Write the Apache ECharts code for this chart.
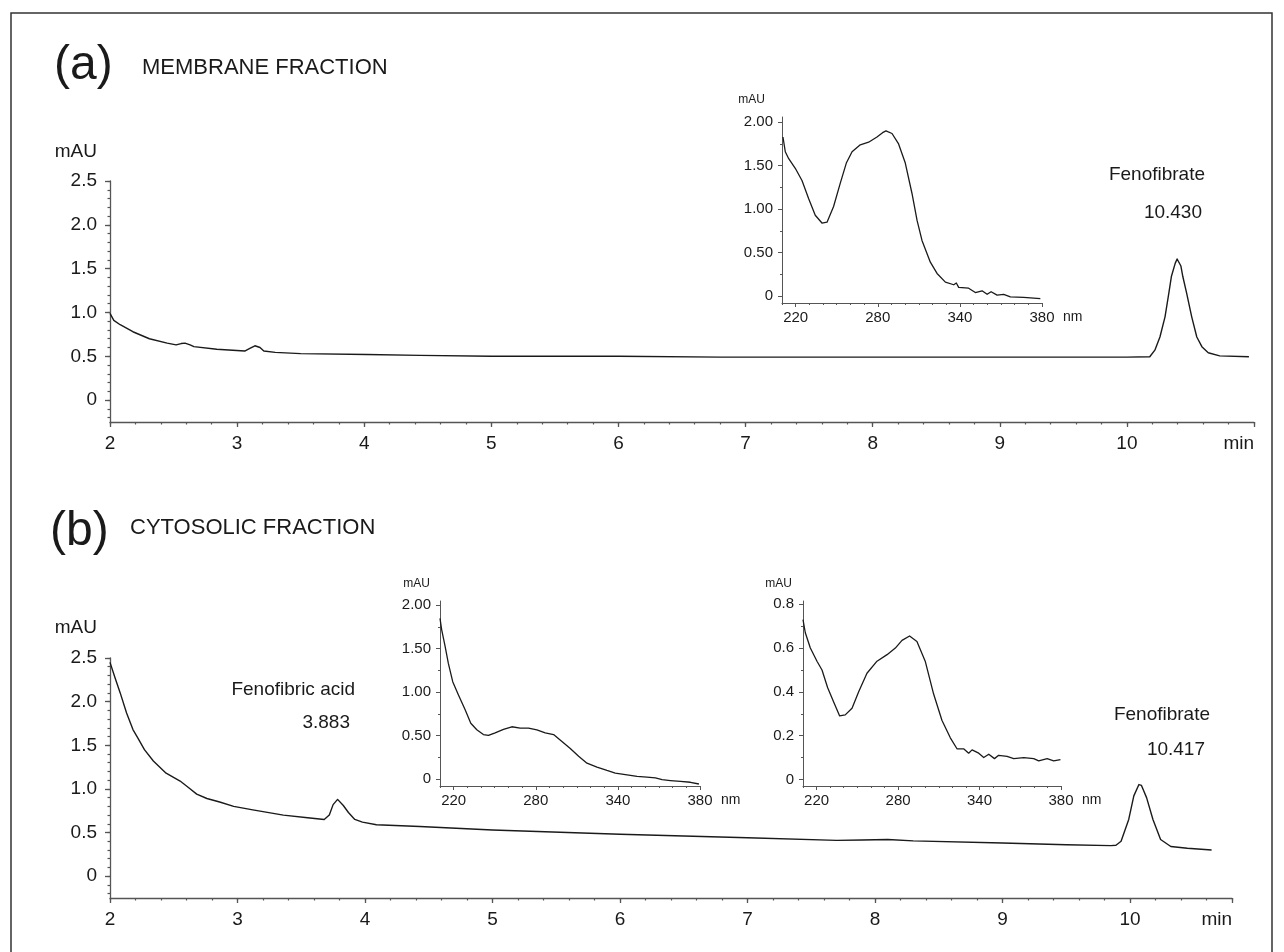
<!DOCTYPE html>
<html>
<head>
<meta charset="utf-8">
<script src="https://cdn.jsdelivr.net/npm/echarts@6/dist/echarts.min.js"></script>
<style>
  html, body { margin: 0; padding: 0; background: #fff; }
  #chart { width: 1284px; height: 952px; }
</style>
</head>
<body>
<div id="chart"></div>
<script>
// chromatogram (a) membrane fraction: retention time (min) / absorbance (mAU)
var memTime = [2.00, 2.03, 2.08, 2.18, 2.31, 2.45, 2.52, 2.56, 2.59, 2.63, 2.66, 2.84, 3.06, 3.10, 3.14, 3.18, 3.21, 3.30, 3.50, 4.02, 4.44, 5.00, 6.00, 6.80, 8.00, 9.00, 10.00, 10.18, 10.22, 10.26, 10.30, 10.33, 10.35, 10.38, 10.395, 10.41, 10.425, 10.44, 10.47, 10.51, 10.55, 10.59, 10.64, 10.73, 10.96];
var memAbs  = [0.99, 0.91, 0.86, 0.78, 0.70, 0.65, 0.63, 0.645, 0.65, 0.63, 0.61, 0.58, 0.56, 0.59, 0.62, 0.60, 0.56, 0.545, 0.53, 0.52, 0.51, 0.50, 0.50, 0.49, 0.49, 0.49, 0.49, 0.494, 0.57, 0.72, 0.95, 1.22, 1.41, 1.56, 1.61, 1.60, 1.53, 1.41, 1.22, 0.95, 0.72, 0.61, 0.54, 0.505, 0.494];

// chromatogram (b) cytosolic fraction
var cytTime = [2.00, 2.04, 2.08, 2.13, 2.18, 2.22, 2.27, 2.34, 2.44, 2.55, 2.62, 2.68, 2.76, 2.86, 2.97, 3.12, 3.36, 3.55, 3.68, 3.72, 3.75, 3.785, 3.80, 3.83, 3.87, 3.92, 3.98, 4.09, 4.43, 5.00, 6.00, 7.00, 7.70, 7.90, 8.10, 8.30, 9.00, 9.50, 9.85, 9.89, 9.93, 9.99, 10.03, 10.07, 10.09, 10.13, 10.18, 10.24, 10.32, 10.45, 10.64];
var cytAbs  = [2.45, 2.27, 2.10, 1.87, 1.68, 1.58, 1.45, 1.32, 1.18, 1.09, 1.01, 0.94, 0.89, 0.85, 0.80, 0.76, 0.70, 0.67, 0.65, 0.70, 0.82, 0.88, 0.87, 0.81, 0.73, 0.65, 0.62, 0.59, 0.57, 0.53, 0.48, 0.44, 0.41, 0.415, 0.42, 0.405, 0.38, 0.36, 0.35, 0.355, 0.40, 0.65, 0.92, 1.05, 1.04, 0.90, 0.65, 0.42, 0.34, 0.32, 0.30];

// UV spectrum inset, membrane fenofibrate peak: wavelength (nm) / mAU
var specMemNm  = [210.7, 212.4, 214.9, 219.7, 224.6, 229.5, 234.3, 239.2, 242.9, 247.7, 252.6, 257.0, 261.2, 267.2, 273.3, 279.4, 283.5, 286.0, 290.4, 295.2, 300.1, 305.0, 308.7, 312.3, 318.4, 323.3, 329.4, 335.5, 337.4, 339.1, 346.4, 347.6, 351.3, 356.2, 359.9, 362.8, 367.2, 372.0, 376.9, 386.6, 398.8];
var specMemAbs = [1.83, 1.66, 1.58, 1.47, 1.33, 1.12, 0.93, 0.84, 0.85, 1.03, 1.30, 1.53, 1.66, 1.74, 1.77, 1.83, 1.88, 1.90, 1.87, 1.75, 1.53, 1.18, 0.87, 0.64, 0.39, 0.26, 0.16, 0.13, 0.15, 0.10, 0.09, 0.11, 0.04, 0.06, 0.02, 0.05, 0.01, 0.02, -0.01, -0.015, -0.03];

// UV spectrum inset, cytosolic fenofibric acid peak
var specAcidNm  = [210.0, 211.2, 213.7, 216.1, 219.3, 223.4, 228.3, 232.5, 236.9, 241.7, 245.4, 250.3, 256.4, 262.5, 268.6, 274.7, 280.8, 286.9, 293.0, 299.1, 305.2, 311.3, 317.4, 324.7, 332.0, 338.1, 346.7, 354.0, 361.3, 367.4, 372.3, 378.4, 385.7, 393.0, 399.2];
var specAcidAbs = [1.85, 1.72, 1.53, 1.33, 1.12, 0.97, 0.80, 0.64, 0.565, 0.51, 0.50, 0.53, 0.57, 0.60, 0.585, 0.585, 0.565, 0.53, 0.51, 0.43, 0.35, 0.26, 0.18, 0.135, 0.096, 0.066, 0.046, 0.027, 0.02, 0.01, -0.01, -0.02, -0.03, -0.04, -0.06];

// UV spectrum inset, cytosolic fenofibrate peak
var specFenoNm  = [210.0, 211.7, 215.4, 220.3, 224.0, 228.1, 232.5, 237.0, 241.1, 246.1, 251.0, 257.1, 264.5, 271.9, 278.0, 282.9, 288.5, 293.9, 300.0, 306.2, 312.3, 318.5, 323.4, 328.3, 332.0, 334.5, 339.4, 343.1, 346.8, 351.0, 354.1, 360.3, 365.2, 372.6, 379.9, 383.6, 389.8, 394.6, 399.6];
var specFenoAbs = [0.73, 0.67, 0.60, 0.54, 0.50, 0.42, 0.355, 0.29, 0.295, 0.325, 0.40, 0.485, 0.54, 0.57, 0.60, 0.635, 0.655, 0.63, 0.54, 0.39, 0.27, 0.19, 0.14, 0.14, 0.12, 0.135, 0.12, 0.10, 0.115, 0.095, 0.11, 0.105, 0.095, 0.10, 0.095, 0.085, 0.095, 0.085, 0.09];

// tick labels
var timeLabels = [2, 3, 4, 5, 6, 7, 8, 9, 10];
var mauLabels = [0, 0.5, 1.0, 1.5, 2.0, 2.5];
var specMauLabels = [0, 0.5, 1.0, 1.5, 2.0];
var specFenoLabels = [0, 0.2, 0.4, 0.6, 0.8];
var nmTickPos = [220, 280, 340, 400];
var nmTickText = ['220', '280', '340', '380'];

var FONT = "'Liberation Sans', Arial, Helvetica, sans-serif";
var INK = '#1a1a1a';
var AXIS = '#555';

function steps(from, to, step) {
    var out = [];
    for (var v = from; v <= to + 1e-9; v += step) out.push(+v.toFixed(4));
    return out;
}
function pairs(xs, ys) {
    return xs.map(function (x, i) { return [x, ys[i]]; });
}

function axis(grid, pos, min, max, ticks, labels, fmt, o) {
    return {
        type: 'value', gridIndex: grid, position: pos, min: min, max: max,
        splitLine: {show: false},
        axisLine: {show: true, onZero: false, lineStyle: {color: AXIS, width: o.lw}},
        axisTick: {show: true, customValues: ticks, length: o.tick, lineStyle: {color: AXIS, width: o.lw}},
        axisLabel: {show: true, customValues: labels, formatter: fmt, margin: o.margin,
            color: INK, fontSize: o.fs, fontFamily: FONT},
        name: o.name, nameLocation: 'end', nameGap: o.nameGap,
        nameTextStyle: Object.assign({color: INK, fontFamily: FONT, fontSize: o.nameFs}, o.nameStyle)
    };
}
function minorAxis(grid, pos, min, max, ticks, len, lw) {
    return {
        type: 'value', gridIndex: grid, position: pos, min: min, max: max,
        splitLine: {show: false},
        axisLine: {show: false, onZero: false},
        axisTick: {show: true, customValues: ticks, length: len, lineStyle: {color: AXIS, width: lw}},
        axisLabel: {show: false}
    };
}

function fmtMain(v) { return v === 0 ? '0' : v.toFixed(1); }
function fmtSpec(v) { return v === 0 ? '0' : v.toFixed(2); }
function fmtFeno(v) { return v === 0 ? '0' : v.toFixed(1); }
function fmtNm(v) { var i = nmTickPos.indexOf(v); return i < 0 ? '' : nmTickText[i]; }

var mainX = {lw: 1.3, tick: 5, margin: 12, fs: 19, nameFs: 19, name: 'min', nameGap: 0,
    nameStyle: {align: 'right', verticalAlign: 'top', padding: [12, 0, 0, 0]}};
var mainY = {lw: 1.3, tick: 5, margin: 13, fs: 19, nameFs: 19, name: 'mAU', nameGap: 29,
    nameStyle: {align: 'right', verticalAlign: 'middle', padding: [0, 13, 0, 0]}};
var specX = {lw: 1, tick: 4, margin: 7, fs: 15, nameFs: 14, name: 'nm', nameGap: 21,
    nameStyle: {align: 'left', verticalAlign: 'top', padding: [7, 0, 0, 0]}};
function specY(pad) {
    return {lw: 1, tick: 4, margin: 9, fs: 15, nameFs: 12, name: 'mAU', nameGap: 17,
        nameStyle: {align: 'right', verticalAlign: 'middle', padding: [0, pad, 0, 0]}};
}

var grids = [
    {left: 110, top: 181, width: 1144, height: 241},  // (a) chromatogram
    {left: 782, top: 117, width: 260, height: 186},   // (a) spectrum inset
    {left: 110, top: 658, width: 1122, height: 240},  // (b) chromatogram
    {left: 440, top: 601, width: 260, height: 185},   // (b) fenofibric acid spectrum
    {left: 803, top: 601, width: 258, height: 185}    // (b) fenofibrate spectrum
];

var nmMinor = steps(210, 400, 10);
var xAxes = [
    axis(0, 'bottom', 2, 11, timeLabels.concat([11]), timeLabels, null, mainX),
    minorAxis(0, 'bottom', 2, 11, steps(2, 11, 0.2), 2.5, 1.2),
    axis(1, 'bottom', 210, 400, nmTickPos, nmTickPos, fmtNm, specX),
    minorAxis(1, 'bottom', 210, 400, nmMinor, 2, 1),
    axis(2, 'bottom', 2, 10.8, timeLabels.concat([10.8]), timeLabels, null, mainX),
    minorAxis(2, 'bottom', 2, 10.8, steps(2, 10.8, 0.2), 2.5, 1.2),
    axis(3, 'bottom', 210, 400, nmTickPos, nmTickPos, fmtNm, specX),
    minorAxis(3, 'bottom', 210, 400, nmMinor, 2, 1),
    axis(4, 'bottom', 210, 400, nmTickPos, nmTickPos, fmtNm, specX),
    minorAxis(4, 'bottom', 210, 400, nmMinor, 2, 1)
];
var yAxes = [
    axis(0, 'left', -0.25, 2.5, mauLabels, mauLabels, fmtMain, mainY),
    minorAxis(0, 'left', -0.25, 2.5, steps(-0.2, 2.5, 0.1), 2.5, 1.2),
    axis(1, 'left', -0.08, 2.06, specMauLabels, specMauLabels, fmtSpec, specY(17)),
    minorAxis(1, 'left', -0.08, 2.06, steps(0, 2, 0.25), 2, 1),
    axis(2, 'left', -0.25, 2.5, mauLabels, mauLabels, fmtMain, Object.assign({}, mainY, {nameGap: 30})),
    minorAxis(2, 'left', -0.25, 2.5, steps(-0.2, 2.5, 0.1), 2.5, 1.2),
    axis(3, 'left', -0.083, 2.05, specMauLabels, specMauLabels, fmtSpec, specY(10)),
    minorAxis(3, 'left', -0.083, 2.05, steps(0, 2, 0.25), 2, 1),
    axis(4, 'left', -0.03, 0.815, specFenoLabels, specFenoLabels, fmtFeno, specY(11)),
    minorAxis(4, 'left', -0.03, 0.815, steps(0, 0.8, 0.1), 2, 1)
];

function trace(idx, xs, ys, w) {
    return {
        type: 'line', xAxisIndex: idx, yAxisIndex: idx, data: pairs(xs, ys),
        symbol: 'none', smooth: false, silent: true,
        lineStyle: {color: INK, width: w, join: 'round'}
    };
}

function label(x, y, text, size, align) {
    return {
        type: 'text', x: x, y: y, silent: true,
        style: {text: text, fill: INK, fontSize: size, fontFamily: FONT,
            align: align || 'left', verticalAlign: 'middle'}
    };
}

var option = {
    animation: false,
    backgroundColor: '#fff',
    grid: grids,
    xAxis: xAxes,
    yAxis: yAxes,
    series: [
        trace(0, memTime, memAbs, 1.4),
        trace(2, specMemNm, specMemAbs, 1.3),
        trace(4, cytTime, cytAbs, 1.4),
        trace(6, specAcidNm, specAcidAbs, 1.3),
        trace(8, specFenoNm, specFenoAbs, 1.3)
    ],
    graphic: [
        {type: 'rect', silent: true, shape: {x: 11, y: 13, width: 1261, height: 960},
            style: {fill: 'none', stroke: '#333', lineWidth: 1.5}},
        label(54, 66, '(a)', 48),
        label(142, 68, 'MEMBRANE FRACTION', 22),
        label(1205, 175, 'Fenofibrate', 19, 'right'),
        label(1202, 213, '10.430', 19, 'right'),
        label(50, 532, '(b)', 48),
        label(130, 528, 'CYTOSOLIC FRACTION', 22),
        label(355, 690, 'Fenofibric acid', 19, 'right'),
        label(350, 723, '3.883', 19, 'right'),
        label(1210, 715, 'Fenofibrate', 19, 'right'),
        label(1205, 750, '10.417', 19, 'right')
    ]
};

var chart = echarts.init(document.getElementById('chart'), null, {renderer: 'canvas'});
chart.setOption(option);
</script>
</body>
</html>
